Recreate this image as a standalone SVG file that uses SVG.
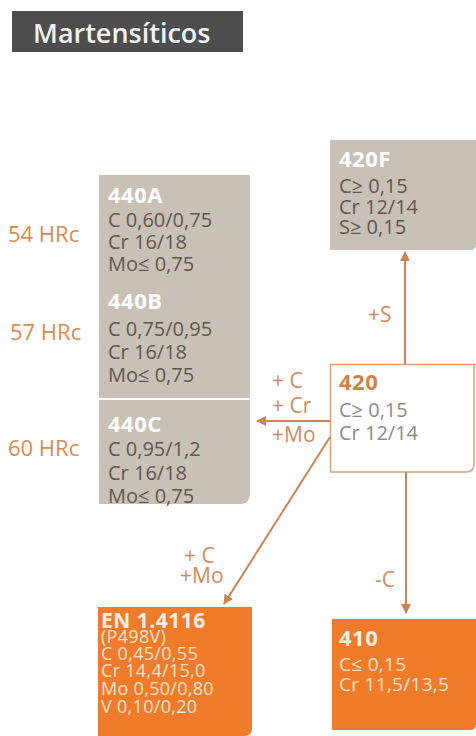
<svg xmlns="http://www.w3.org/2000/svg" width="476" height="736" viewBox="0 0 476 736">
<defs>
<marker id="ah" viewBox="0 0 10 10" refX="9" refY="5" markerWidth="5" markerHeight="5" orient="auto" markerUnits="strokeWidth">
<path d="M0,0 L10,5 L0,10 z" fill="#c98555"/>
</marker>
<style>
text{font-family:"Open Sans","Noto Sans","Liberation Sans",sans-serif;}
.gt{fill:#5f5852;font-size:20px;}
.wt{fill:#ffffff;font-size:22px;font-weight:bold;letter-spacing:0.5px;}
.hrc{fill:#dc8a4e;font-size:22px;}
.lab{fill:#d08a5c;font-size:21px;}
.ot{fill:#fbe3d0;font-size:18px;letter-spacing:0.3px;}
.conn{stroke:#c98555;stroke-width:2;fill:none;marker-end:url(#ah);}
</style>
</defs>
<rect width="476" height="736" fill="#ffffff"/>
<g id="title">
<rect x="12" y="11" width="231" height="41" fill="#4d4d4d"/>
<text x="33" y="43" fill="#f2f2f2" style="font-size:27px;font-weight:600">Martensíticos</text>
</g>
<g id="hrc">
<text class="hrc" x="8" y="242">54 HRc</text>
<text class="hrc" x="10" y="340">57 HRc</text>
<text class="hrc" x="8" y="456">60 HRc</text>
</g>
<g id="n440">
<path d="M99,175 H250 V494 Q250,504 240,504 H99 Z" fill="#c9c1b5"/>
<line x1="99" y1="399" x2="250" y2="399" stroke="#ffffff" stroke-width="2"/>
<text class="wt" x="108" y="203">440A</text>
<text class="gt" x="108" y="227">C 0,60/0,75</text>
<text class="gt" x="108" y="249">Cr 16/18</text>
<text class="gt" x="108" y="271">Mo≤ 0,75</text>
<text class="wt" x="108" y="309">440B</text>
<text class="gt" x="108" y="336">C 0,75/0,95</text>
<text class="gt" x="108" y="359">Cr 16/18</text>
<text class="gt" x="108" y="382">Mo≤ 0,75</text>
<text class="wt" x="108" y="432">440C</text>
<text class="gt" x="108" y="456">C 0,95/1,2</text>
<text class="gt" x="108" y="480">Cr 16/18</text>
<text class="gt" x="108" y="503">Mo≤ 0,75</text>
</g>
<g id="n420F">
<path d="M330,140 H476 V244 Q476,250 470,250 H330 Z" fill="#c9c1b5"/>
<text class="wt" x="339" y="167">420F</text>
<text class="gt" x="339" y="193">C≥ 0,15</text>
<text class="gt" x="339" y="214">Cr 12/14</text>
<text class="gt" x="339" y="234">S≥ 0,15</text>
</g>
<g id="n420">
<path d="M480,364.5 H330.5 V472 H466 Q474,472 474,464 V364.5" fill="#ffffff" stroke="#d9a27c" stroke-width="1.5"/>
<text x="339" y="390" fill="#d3804a" style="font-size:22px;font-weight:bold;letter-spacing:0.5px">420</text>
<text x="339" y="417" fill="#8f8a85" style="font-size:20px">C≥ 0,15</text>
<text x="339" y="440" fill="#8f8a85" style="font-size:20px">Cr 12/14</text>
</g>
<g id="nEN">
<path d="M98,607 H252 V728 Q252,736 244,736 H98 Z" fill="#f07b2b"/>
<text x="101" y="628" fill="#fdeee3" style="font-size:21px;font-weight:bold;letter-spacing:0.5px">EN 1.4116</text>
<text class="ot" x="101" y="643">(P498V)</text>
<text class="ot" x="101" y="660">C 0,45/0,55</text>
<text class="ot" x="101" y="677">Cr 14,4/15,0</text>
<text class="ot" x="101" y="695">Mo  0,50/0,80</text>
<text class="ot" x="101" y="713">V 0,10/0,20</text>
</g>
<g id="n410">
<path d="M332,619 H476 V724 Q476,730 470,730 H332 Z" fill="#f07b2b"/>
<text x="339" y="646" fill="#fdeee3" style="font-size:22px;font-weight:bold;letter-spacing:0.5px">410</text>
<text class="ot" x="339" y="671" style="font-size:19px">C≤ 0,15</text>
<text class="ot" x="339" y="691" style="font-size:19px">Cr 11,5/13,5</text>
</g>
<g id="connectors">
<line class="conn" x1="405" y1="364" x2="405" y2="252"/>
<line class="conn" x1="330" y1="421" x2="257" y2="421"/>
<line class="conn" x1="330" y1="437" x2="224" y2="604"/>
<line class="conn" x1="406" y1="472" x2="406" y2="613"/>
</g>
<g id="labels">
<text class="lab" x="368" y="322">+S</text>
<text class="lab" x="272" y="388">+ C</text>
<text class="lab" x="272" y="413">+ Cr</text>
<text class="lab" x="272" y="442">+Mo</text>
<text class="lab" x="184" y="563">+ C</text>
<text class="lab" x="180" y="583">+Mo</text>
<text class="lab" x="375" y="587">-C</text>
</g>
</svg>
